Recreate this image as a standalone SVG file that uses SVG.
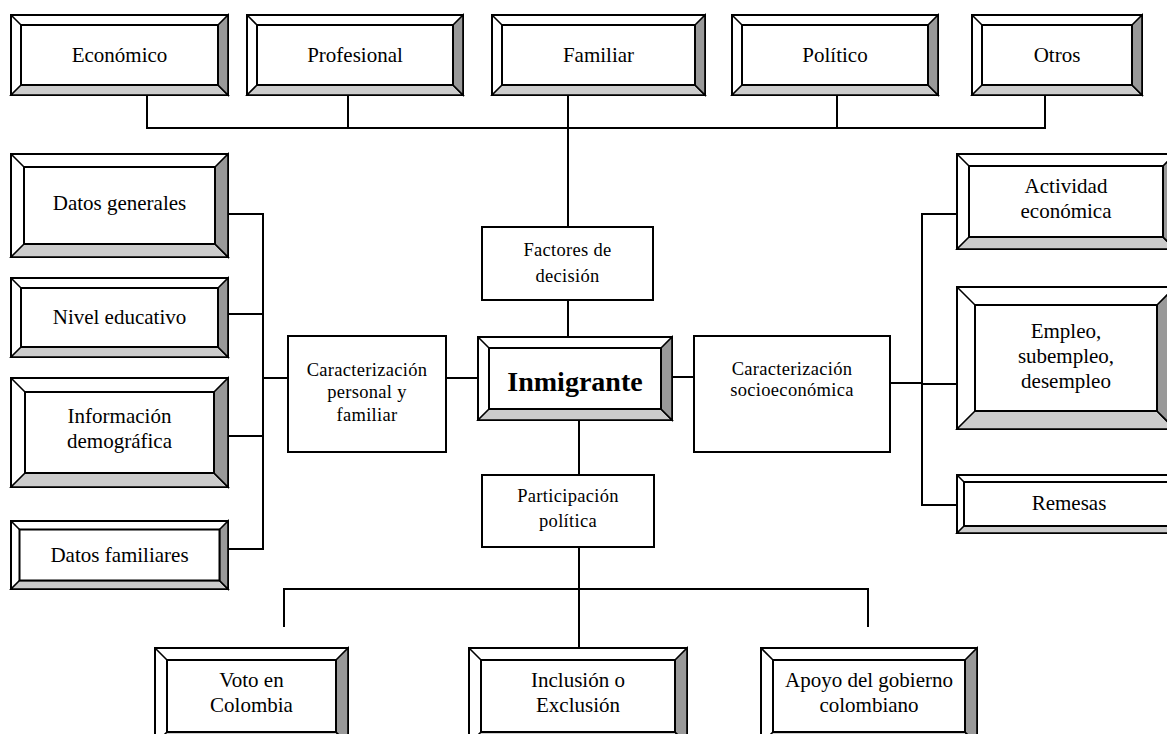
<svg xmlns="http://www.w3.org/2000/svg" width="1167" height="734" viewBox="0 0 1167 734">
<style>
.o{fill:#fff;stroke:#000;stroke-width:2}
.b{fill:#cccccc;stroke:#000;stroke-width:1.6;stroke-linejoin:miter}
.r{fill:#999999;stroke:#000;stroke-width:1.6}
.i{fill:#fff;stroke:#000;stroke-width:2}
.d{stroke:#000;stroke-width:1.6}
.p{fill:#fff;stroke:#000;stroke-width:2}
.t{font-family:"Liberation Serif","Times New Roman",serif;font-size:21px;fill:#000;text-anchor:middle}
.s{font-family:"Liberation Serif","Times New Roman",serif;font-size:18.5px;fill:#000;text-anchor:middle;letter-spacing:0.3px}
.big{font-family:"Liberation Serif","Times New Roman",serif;font-size:28px;font-weight:bold;fill:#000;text-anchor:middle}
.c{fill:none;stroke:#000;stroke-width:2}
</style>
<rect width="1167" height="734" fill="#fff"/>
<g id="connectors">
<path class="c" d="M147 95V128H1045V95M348 95V128M568 95V227M837 95V128M568 300V337"/>
<path class="c" d="M228 214H263V549H228M228 314H263M228 436H263M263 378H288M446 378H478"/>
<path class="c" d="M672 377H694M890 383H922M957 214H922V505H957M922 384H957"/>
<path class="c" d="M579 420V475M579 547V648M284 627V589H868V627"/>
</g>
<g id="economico">
<rect class="o" x="11" y="15" width="217" height="80"/>
<polygon class="b" points="11,95 228,95 218,85 21,85"/>
<polygon class="r" points="228,15 228,95 218,85 218,25"/>
<rect class="i" x="21" y="25" width="197" height="60"/>
<line class="d" x1="11" y1="15" x2="21" y2="25"/>
<text class="t" x="119.5" y="62">Económico</text>
</g>
<g id="profesional">
<rect class="o" x="247" y="15" width="216" height="80"/>
<polygon class="b" points="247,95 463,95 453,85 257,85"/>
<polygon class="r" points="463,15 463,95 453,85 453,25"/>
<rect class="i" x="257" y="25" width="196" height="60"/>
<line class="d" x1="247" y1="15" x2="257" y2="25"/>
<text class="t" x="355" y="62">Profesional</text>
</g>
<g id="familiar">
<rect class="o" x="492" y="15" width="213" height="80"/>
<polygon class="b" points="492,95 705,95 695,85 502,85"/>
<polygon class="r" points="705,15 705,95 695,85 695,25"/>
<rect class="i" x="502" y="25" width="193" height="60"/>
<line class="d" x1="492" y1="15" x2="502" y2="25"/>
<text class="t" x="598.5" y="62">Familiar</text>
</g>
<g id="politico">
<rect class="o" x="732" y="15" width="206" height="80"/>
<polygon class="b" points="732,95 938,95 928,85 742,85"/>
<polygon class="r" points="938,15 938,95 928,85 928,25"/>
<rect class="i" x="742" y="25" width="186" height="60"/>
<line class="d" x1="732" y1="15" x2="742" y2="25"/>
<text class="t" x="835" y="62">Político</text>
</g>
<g id="otros">
<rect class="o" x="972" y="15" width="170" height="80"/>
<polygon class="b" points="972,95 1142,95 1132,85 982,85"/>
<polygon class="r" points="1142,15 1142,95 1132,85 1132,25"/>
<rect class="i" x="982" y="25" width="150" height="60"/>
<line class="d" x1="972" y1="15" x2="982" y2="25"/>
<text class="t" x="1057" y="62">Otros</text>
</g>
<g id="datos-generales">
<rect class="o" x="11" y="154" width="217" height="103"/>
<polygon class="b" points="11,257 228,257 215,244 24,244"/>
<polygon class="r" points="228,154 228,257 215,244 215,167"/>
<rect class="i" x="24" y="167" width="191" height="77"/>
<line class="d" x1="11" y1="154" x2="24" y2="167"/>
<text class="t" x="119.5" y="210">Datos generales</text>
</g>
<g id="nivel-educativo">
<rect class="o" x="11" y="278" width="217" height="79"/>
<polygon class="b" points="11,357 228,357 218,347 21,347"/>
<polygon class="r" points="228,278 228,357 218,347 218,288"/>
<rect class="i" x="21" y="288" width="197" height="59"/>
<line class="d" x1="11" y1="278" x2="21" y2="288"/>
<text class="t" x="119.5" y="324">Nivel educativo</text>
</g>
<g id="informacion-demografica">
<rect class="o" x="11" y="378" width="217" height="109"/>
<polygon class="b" points="11,487 228,487 214,473 25,473"/>
<polygon class="r" points="228,378 228,487 214,473 214,392"/>
<rect class="i" x="25" y="392" width="189" height="81"/>
<line class="d" x1="11" y1="378" x2="25" y2="392"/>
<text class="t" x="119.5" y="423">Información</text>
<text class="t" x="119.5" y="448">demográfica</text>
</g>
<g id="datos-familiares">
<rect class="o" x="11" y="521" width="217" height="68"/>
<polygon class="b" points="11,589 228,589 219.5,580.5 19.5,580.5"/>
<polygon class="r" points="228,521 228,589 219.5,580.5 219.5,529.5"/>
<rect class="i" x="19.5" y="529.5" width="200" height="51"/>
<line class="d" x1="11" y1="521" x2="19.5" y2="529.5"/>
<text class="t" x="119.5" y="562">Datos familiares</text>
</g>
<g id="caracterizacion-personal">
<rect class="p" x="288" y="336" width="158" height="116"/>
<text class="s" x="367" y="376">Caracterización</text>
<text class="s" x="367" y="398">personal y</text>
<text class="s" x="367" y="421">familiar</text>
</g>
<g id="factores">
<rect class="p" x="482" y="227" width="171" height="73"/>
<text class="s" x="567.5" y="256">Factores de</text>
<text class="s" x="567.5" y="282">decisión</text>
</g>
<g id="inmigrante">
<rect class="o" x="478" y="337" width="194" height="83"/>
<polygon class="b" points="478,420 672,420 661,409 489,409"/>
<polygon class="r" points="672,337 672,420 661,409 661,348"/>
<rect class="i" x="489" y="348" width="172" height="61"/>
<line class="d" x1="478" y1="337" x2="489" y2="348"/>
<text class="big" x="575" y="391">Inmigrante</text>
</g>
<g id="participacion">
<rect class="p" x="482" y="475" width="172" height="72"/>
<text class="s" x="568" y="502">Participación</text>
<text class="s" x="568" y="527">política</text>
</g>
<g id="caracterizacion-socioeconomica">
<rect class="p" x="694" y="336" width="196" height="116"/>
<text class="s" x="792" y="375">Caracterización</text>
<text class="s" x="792" y="396">socioeconómica</text>
</g>
<g id="actividad">
<rect class="o" x="957" y="154" width="218" height="95"/>
<polygon class="b" points="957,249 1175,249 1163,237 969,237"/>
<polygon class="r" points="1175,154 1175,249 1163,237 1163,166"/>
<rect class="i" x="969" y="166" width="194" height="71"/>
<line class="d" x1="957" y1="154" x2="969" y2="166"/>
<text class="t" x="1066" y="193">Actividad</text>
<text class="t" x="1066" y="218">económica</text>
</g>
<g id="empleo">
<rect class="o" x="957" y="287" width="218" height="142"/>
<polygon class="b" points="957,429 1175,429 1157,411 975,411"/>
<polygon class="r" points="1175,287 1175,429 1157,411 1157,305"/>
<rect class="i" x="975" y="305" width="182" height="106"/>
<line class="d" x1="957" y1="287" x2="975" y2="305"/>
<text class="t" x="1066" y="338">Empleo,</text>
<text class="t" x="1066" y="363">subempleo,</text>
<text class="t" x="1066" y="388">desempleo</text>
</g>
<g id="remesas">
<rect class="o" x="957" y="475" width="218" height="58"/>
<polygon class="b" points="957,533 1175,533 1168,526 964,526"/>
<polygon class="r" points="1175,475 1175,533 1168,526 1168,482"/>
<rect class="i" x="964" y="482" width="204" height="44"/>
<line class="d" x1="957" y1="475" x2="964" y2="482"/>
<text class="t" x="1069" y="510">Remesas</text>
</g>
<g id="voto">
<rect class="o" x="155" y="648" width="193" height="96"/>
<polygon class="b" points="155,744 348,744 336,732 167,732"/>
<polygon class="r" points="348,648 348,744 336,732 336,660"/>
<rect class="i" x="167" y="660" width="169" height="72"/>
<line class="d" x1="155" y1="648" x2="167" y2="660"/>
<text class="t" x="251.5" y="687">Voto en</text>
<text class="t" x="251.5" y="712">Colombia</text>
</g>
<g id="inclusion">
<rect class="o" x="469" y="648" width="218" height="96"/>
<polygon class="b" points="469,744 687,744 675,732 481,732"/>
<polygon class="r" points="687,648 687,744 675,732 675,660"/>
<rect class="i" x="481" y="660" width="194" height="72"/>
<line class="d" x1="469" y1="648" x2="481" y2="660"/>
<text class="t" x="578" y="687">Inclusión o</text>
<text class="t" x="578" y="712">Exclusión</text>
</g>
<g id="apoyo">
<rect class="o" x="761" y="648" width="216" height="96"/>
<polygon class="b" points="761,744 977,744 965,732 773,732"/>
<polygon class="r" points="977,648 977,744 965,732 965,660"/>
<rect class="i" x="773" y="660" width="192" height="72"/>
<line class="d" x1="761" y1="648" x2="773" y2="660"/>
<text class="t" x="869" y="687">Apoyo del gobierno</text>
<text class="t" x="869" y="712">colombiano</text>
</g>
</svg>
